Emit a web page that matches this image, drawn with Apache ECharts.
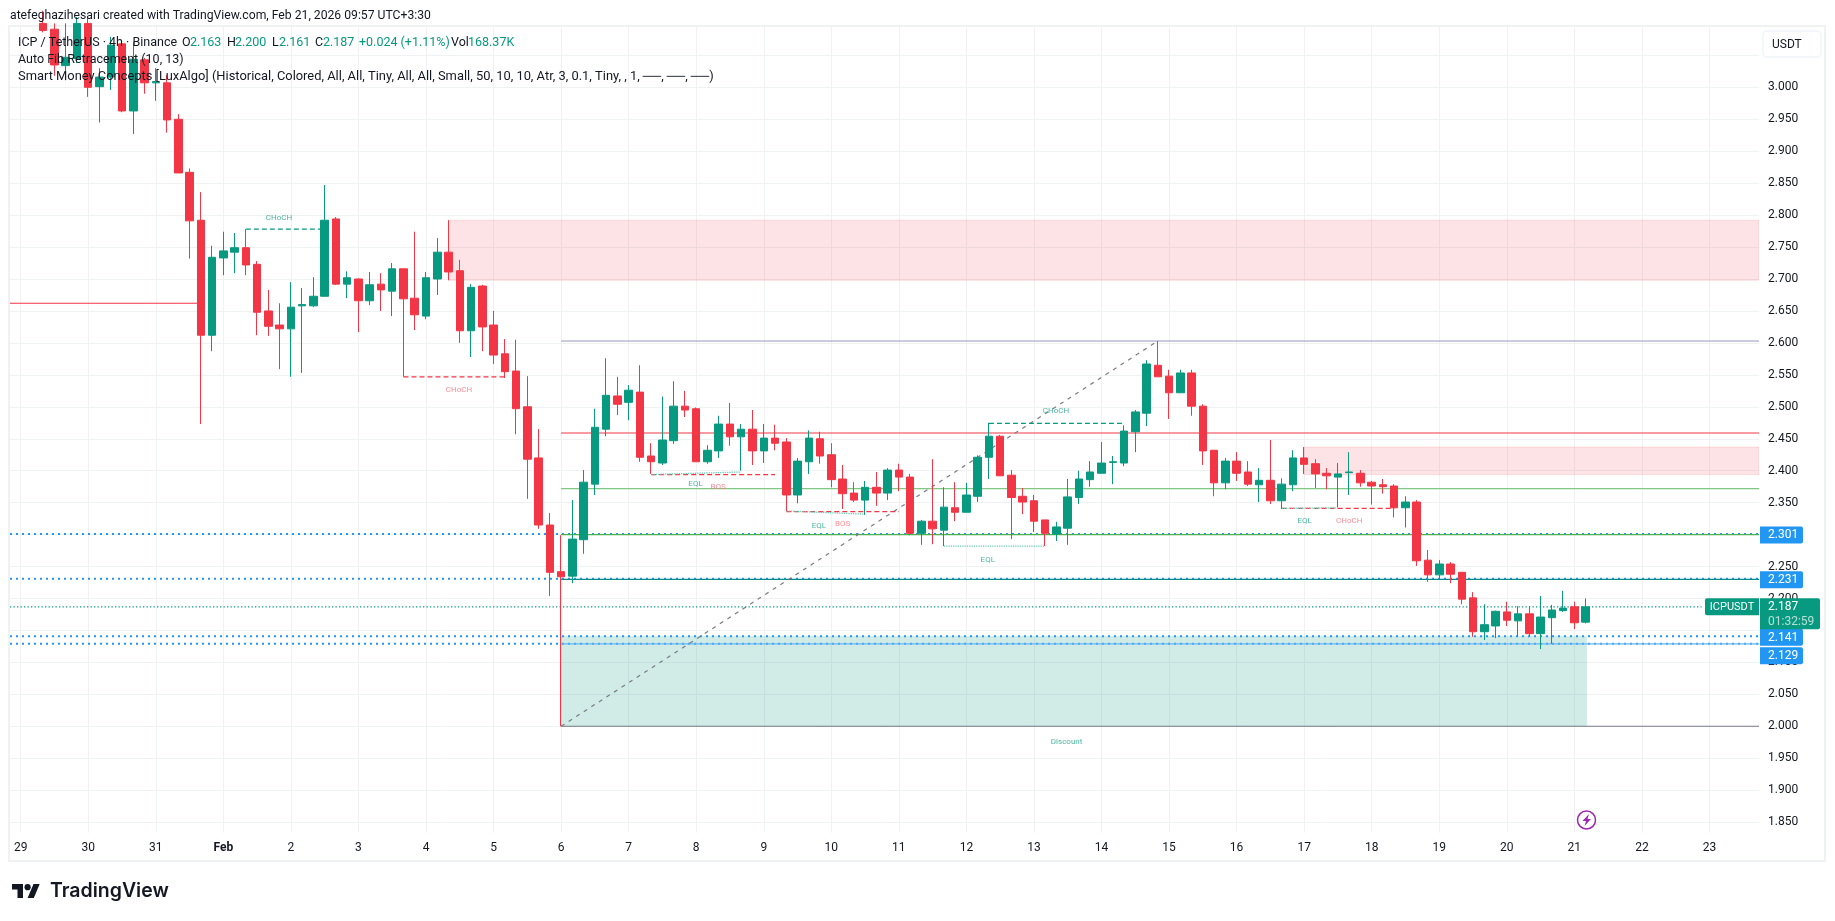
<!DOCTYPE html>
<html>
<head>
<meta charset="utf-8">
<title>ICPUSDT</title>
<script src="https://cdn.jsdelivr.net/npm/echarts@6/dist/echarts.min.js"></script>
<style>
html, body { margin: 0; padding: 0; background: #fff; }
#main { width: 1835px; height: 921px; }
</style>
</head>
<body>
<div id="main"></div>
<script>
// bars are 4h, index 0 = the "29" tick, 6 bars per day
var firstBar = 2;
var dayLabels = ['29','30','31','Feb','2','3','4','5','6','7','8','9','10','11','12','13','14','15','16','17','18','19','20','21','22','23'];
var dayTicks = [0,6,12,18,24,30,36,42,48,54,60,66,72,78,84,90,96,102,108,114,120,126,132,138,144,150];
var priceLabels = [1.85,1.9,1.95,2.0,2.05,2.1,2.15,2.2,2.25,2.3,2.35,2.4,2.45,2.5,2.55,2.6,2.65,2.7,2.75,2.8,2.85,2.9,2.95,3.0];
var priceGrid = priceLabels.concat([3.05]);

var opens = [3.10,3.091,3.034,3.045,3.10,3.001,3.016,3.068,2.963,3.043,3.007,3.007,2.950,2.867,
2.792,2.612,2.733,2.742,2.749,2.723,2.650,2.628,2.622,2.658,2.658,2.673,2.794,2.692,
2.700,2.666,2.692,2.681,2.716,2.670,2.642,2.700,2.742,2.713,2.619,2.689,2.628,2.583,
2.556,2.500,2.420,2.315,2.242,2.235,2.292,2.379,2.465,2.517,2.507,2.523,2.423,2.412,
2.447,2.501,2.497,2.414,2.431,2.473,2.453,2.465,2.431,2.451,2.445,2.362,2.414,2.450,
2.425,2.387,2.365,2.354,2.374,2.365,2.401,2.390,2.302,2.321,2.307,2.342,2.335,2.360,
2.421,2.454,2.393,2.360,2.353,2.323,2.301,2.310,2.358,2.386,2.396,2.413,2.412,2.461,
2.490,2.565,2.548,2.522,2.553,2.501,2.432,2.381,2.415,2.398,2.378,2.385,2.353,2.378,
2.420,2.411,2.396,2.390,2.397,2.396,2.382,2.378,2.376,2.342,2.351,2.260,2.237,2.254,
2.241,2.201,2.148,2.157,2.179,2.165,2.176,2.145,2.170,2.181,2.187,2.163];

var closes = [3.089,3.035,3.047,3.10,3.000,3.016,3.066,2.963,3.044,3.007,3.009,2.949,2.866,2.791,
2.612,2.734,2.744,2.749,2.722,2.648,2.626,2.622,2.656,2.660,2.673,2.792,2.692,2.702,
2.666,2.691,2.683,2.716,2.669,2.644,2.702,2.742,2.711,2.619,2.687,2.625,2.581,2.555,
2.497,2.418,2.315,2.241,2.234,2.293,2.382,2.468,2.518,2.504,2.526,2.421,2.414,2.448,
2.501,2.495,2.414,2.432,2.473,2.453,2.465,2.431,2.451,2.443,2.362,2.415,2.451,2.423,
2.386,2.364,2.354,2.374,2.365,2.401,2.390,2.302,2.321,2.309,2.343,2.335,2.362,2.421,
2.454,2.392,2.358,2.351,2.321,2.302,2.312,2.359,2.387,2.398,2.412,2.414,2.462,2.492,
2.567,2.547,2.522,2.553,2.501,2.431,2.381,2.415,2.396,2.379,2.385,2.353,2.379,2.420,
2.410,2.395,2.392,2.395,2.398,2.381,2.376,2.375,2.342,2.351,2.259,2.237,2.254,2.238,
2.199,2.148,2.159,2.180,2.166,2.176,2.145,2.171,2.182,2.185,2.162,2.187];

var lows = [3.086,3.018,3.011,3.038,2.985,2.945,2.996,2.961,2.927,2.990,2.979,2.929,2.866,2.732,
2.473,2.587,2.706,2.709,2.706,2.612,2.611,2.559,2.547,2.553,2.656,2.673,2.691,2.670,
2.617,2.659,2.650,2.642,2.547,2.620,2.637,2.675,2.698,2.600,2.578,2.587,2.567,2.545,
2.457,2.356,2.309,2.204,2.000,2.224,2.270,2.362,2.454,2.487,2.479,2.414,2.395,2.409,
2.442,2.484,2.414,2.411,2.420,2.439,2.400,2.409,2.412,2.432,2.337,2.349,2.395,2.411,
2.374,2.340,2.351,2.331,2.345,2.354,2.368,2.299,2.284,2.285,2.282,2.321,2.335,2.351,
2.387,2.392,2.293,2.332,2.304,2.282,2.290,2.284,2.348,2.375,2.396,2.379,2.407,2.429,
2.470,2.547,2.481,2.522,2.486,2.409,2.360,2.371,2.384,2.376,2.351,2.348,2.340,2.368,
2.395,2.373,2.371,2.343,2.362,2.375,2.347,2.364,2.327,2.311,2.251,2.226,2.231,2.224,
2.191,2.140,2.135,2.138,2.157,2.140,2.141,2.121,2.129,2.179,2.152,2.161];

var highs = [3.12,3.10,3.10,3.11,3.11,3.030,3.079,3.072,3.071,3.046,3.030,3.019,2.958,2.873,
2.836,2.752,2.774,2.772,2.778,2.728,2.683,2.662,2.695,2.686,2.703,2.847,2.797,2.712,
2.701,2.711,2.709,2.725,2.716,2.774,2.711,2.764,2.792,2.730,2.692,2.691,2.650,2.606,
2.605,2.548,2.465,2.334,2.299,2.354,2.401,2.497,2.576,2.547,2.534,2.565,2.443,2.516,
2.540,2.525,2.499,2.440,2.486,2.506,2.473,2.495,2.473,2.472,2.451,2.420,2.463,2.461,
2.443,2.409,2.382,2.384,2.398,2.404,2.411,2.395,2.323,2.418,2.374,2.382,2.381,2.424,
2.475,2.456,2.401,2.373,2.362,2.323,2.320,2.387,2.400,2.415,2.445,2.423,2.471,2.495,
2.573,2.603,2.558,2.558,2.558,2.504,2.432,2.420,2.429,2.415,2.404,2.448,2.388,2.432,
2.437,2.418,2.404,2.412,2.429,2.401,2.384,2.387,2.379,2.360,2.354,2.276,2.260,2.257,
2.241,2.210,2.191,2.181,2.195,2.188,2.188,2.204,2.190,2.212,2.195,2.200];

var axisMinX = -0.95, axisMaxX = 154.4;
var axisMinY = 1.8338, axisMaxY = 3.0944;

// [from bar, to bar, price]
var levelsBlue = [[axisMinX,axisMaxX,2.301],[axisMinX,axisMaxX,2.231],[axisMinX,axisMaxX,2.141],[axisMinX,axisMaxX,2.129]];
var fibLines = [[48,axisMaxX,2.603,'#9598c1'],[48,axisMaxX,2.459,'#f23645'],[48,axisMaxX,2.372,'#81c784'],[48,axisMaxX,2.300,'#4caf50'],[48,axisMaxX,2.230,'#0b8a8a'],[48,axisMaxX,2.129,'#64b5f6'],[48,axisMaxX,2.000,'#787b86'],[axisMinX,16,2.662,'#f23645']];
var fibTrend = [[48,2.000],[101,2.603]];
var lastPriceLine = [axisMinX,149.3,2.187];
var structGreen = [[20,27,2.778],[86,98,2.474]];
var structRed = [[34,43,2.547],[56,67,2.394],[68,78,2.336],[112,122,2.341]];
var eqlLines = [[[56,2.394],[64,2.398]],[[68,2.337],[75,2.332]],[[82,2.282],[91,2.282]],[[112,2.341],[117,2.342]]];

// [from bar, to bar, top, bottom]
var redZones = [[38,axisMaxX,2.792,2.698],[114,axisMaxX,2.437,2.394]];
var greenZones = [[48,139.1,2.141,2.000]];

var greenLabels = [[22.94,2.795,'CHoCH'],[59.94,2.379,'EQL'],[70.9,2.313,'EQL'],[85.9,2.260,'EQL'],[91.96,2.493,'CHoCH'],[114.05,2.321,'EQL'],[92.9,1.975,'Discount']];
var redLabels = [[38.93,2.527,'CHoCH'],[61.94,2.374,'BOS'],[73.0,2.317,'BOS'],[118,2.321,'CHoCH']];

var tagPrices = [2.301, 2.231, 2.141, 2.129];
var lastPrice = 2.187;
var countdown = '01:32:59';
var symbolName = 'ICPUSDT';

var upColor = '#089981', downColor = '#F23645', blue = '#2196f3';
var fontName = 'Roboto, "Open Sans", sans-serif';

var candleData = opens.map(function (o, k) {
    return [firstBar + k, o, closes[k], lows[k], highs[k]];
});

var series = [];

function addLine(points, color, width, dash, z) {
    series.push({
        type: 'line', data: points, symbol: 'none', silent: true, animation: false, z: z || 2,
        lineStyle: { color: color, width: width, type: dash || 'solid', cap: 'butt' }
    });
}

function addZones(zones, fill, stroke) {
    series.push({
        type: 'custom', silent: true, animation: false, z: 1, data: zones, clip: true,
        encode: { x: [0, 1], y: [2, 3] },
        renderItem: function (params, api) {
            var a = api.coord([api.value(0), api.value(2)]);
            var b = api.coord([api.value(1), api.value(3)]);
            return {
                type: 'rect',
                shape: { x: a[0], y: a[1], width: b[0] - a[0], height: b[1] - a[1] },
                style: { fill: fill, stroke: stroke, lineWidth: 1 }
            };
        }
    });
}

function addLabels(list, color) {
    series.push({
        type: 'scatter', silent: true, animation: false, z: 3, data: list, symbolSize: 0,
        label: {
            show: true, position: 'inside', color: color, fontSize: 8, fontFamily: fontName,
            formatter: function (p) { return p.value[2]; }
        }
    });
}

addZones(redZones, 'rgba(242,54,69,0.14)', 'rgba(242,54,69,0.12)');
addZones(greenZones, 'rgba(8,153,129,0.19)', 'rgba(8,153,129,0.05)');

levelsBlue.forEach(function (l) {
    addLine([[l[0], l[2]], [l[1], l[2]]], blue, 2, [2, 4]);
});
fibLines.forEach(function (l) {
    addLine([[l[0], l[2]], [l[1], l[2]]], l[3], 1.1);
});
addLine(fibTrend, '#787b86', 1.2, [4, 5]);
addLine([[lastPriceLine[0], lastPriceLine[2]], [lastPriceLine[1], lastPriceLine[2]]], upColor, 1.3, [1.3, 2.2]);
structGreen.forEach(function (l) {
    addLine([[l[0], l[2]], [l[1], l[2]]], upColor, 1.3, [5, 3]);
});
structRed.forEach(function (l) {
    addLine([[l[0], l[2]], [l[1], l[2]]], downColor, 1.3, [5, 3]);
});
eqlLines.forEach(function (l) {
    addLine(l, '#6fc9b5', 1.3, [1.3, 1]);
});
addLabels(greenLabels, '#1fa58c');
addLabels(redLabels, '#f7707c');

series.push({
    type: 'candlestick', data: candleData, barWidth: 8, z: 5, silent: true, animation: false,
    itemStyle: { color: upColor, color0: downColor, borderColor: upColor, borderColor0: downColor, borderWidth: 1 }
});

// price tags on the axis, a tag that would overlap the one above moves down
series.push({
    type: 'custom', silent: true, animation: false, z: 8, clip: false, data: tagPrices.map(function (p) { return [axisMaxX, p]; }),
    renderItem: function (params, api) {
        var pos = api.coord([api.value(0), api.value(1)]);
        var prev = params.dataIndex > 0 ? api.coord([axisMaxX, tagPrices[params.dataIndex - 1]])[1] : -100;
        var y = Math.max(pos[1], prev + 18.5);
        return {
            type: 'group', children: [
                { type: 'rect', shape: { x: pos[0] + 1, y: y - 7.5, width: 43, height: 17, r: [0, 2, 2, 0] }, style: { fill: blue } },
                { type: 'text', style: { x: pos[0] + 9, y: y + 1.5, text: api.value(1).toFixed(3), fill: '#fff', font: '12px ' + fontName, textVerticalAlign: 'middle' } }
            ]
        };
    }
});
series.push({
    type: 'custom', silent: true, animation: false, z: 9, clip: false, data: [[axisMaxX, lastPrice]],
    renderItem: function (params, api) {
        var pos = api.coord([api.value(0), api.value(1)]);
        return {
            type: 'group', children: [
                { type: 'rect', shape: { x: pos[0] - 54, y: pos[1] - 8.5, width: 54, height: 17, r: [2, 0, 0, 2] }, style: { fill: upColor } },
                { type: 'text', style: { x: pos[0] - 27, y: pos[1] + 0.5, text: symbolName, fill: '#fff', font: '11px ' + fontName, textAlign: 'center', textVerticalAlign: 'middle' } },
                { type: 'rect', shape: { x: pos[0] + 1, y: pos[1] - 8.5, width: 60, height: 31, r: [0, 2, 2, 0] }, style: { fill: upColor } },
                { type: 'text', style: { x: pos[0] + 9, y: pos[1] + 0.5, text: api.value(1).toFixed(3), fill: '#fff', font: '12px ' + fontName, textVerticalAlign: 'middle' } },
                { type: 'text', style: { x: pos[0] + 9, y: pos[1] + 15.5, text: countdown, fill: '#b5e0d8', font: '12px ' + fontName, textVerticalAlign: 'middle' } }
            ]
        };
    }
});

var txt = '#131722';
var legendParts = [
    [18, 42.5, 'ICP / TetherUS · 4h · Binance', txt, 12.5],
    [182, 42.5, 'O', txt, 12.5], [190, 42.5, '2.163', upColor, 12.5],
    [227, 42.5, 'H', txt, 12.5], [235, 42.5, '2.200', upColor, 12.5],
    [272, 42.5, 'L', txt, 12.5], [279, 42.5, '2.161', upColor, 12.5],
    [315, 42.5, 'C', txt, 12.5], [323, 42.5, '2.187', upColor, 12.5],
    [359, 42.5, '+0.024 (+1.11%)', upColor, 12.5],
    [451, 42.5, 'Vol', txt, 12.5], [468, 42.5, '168.37K', upColor, 12.5],
    [18, 60, 'Auto Fib Retracement (10, 13)', txt, 12.5],
    [18, 77, 'Smart Money Concepts [LuxAlgo] (Historical, Colored, All, All, Tiny, All, All, Small, 50, 10, 10, Atr, 3, 0.1, Tiny, , 1, ──, ──, ──)', txt, 12.9],
    [10, 16, 'atefeghazihesari created with TradingView.com, Feb 21, 2026 09:57 UTC+3:30', txt, 12.2]
];

var graphics = legendParts.map(function (p) {
    return { type: 'text', z: 20, x: p[0], y: p[1], style: { text: p[2], fill: p[3], font: p[4] + 'px ' + fontName, textVerticalAlign: 'middle' } };
});
// frame around chart and axis
graphics.push({ type: 'rect', z: 0, silent: true, shape: { x: 9, y: 26, width: 1816, height: 835 }, style: { fill: 'none', stroke: '#f0f1f3', lineWidth: 2 } });
// currency button
graphics.push({ type: 'rect', z: 20, shape: { x: 1763, y: 31, width: 58, height: 26, r: 4 }, style: { fill: '#fff', stroke: '#f0f3fa', lineWidth: 1.5 } });
graphics.push({ type: 'text', z: 21, x: 1772, y: 45, style: { text: 'USDT', fill: txt, font: '12px ' + fontName, textVerticalAlign: 'middle' } });
// TradingView logo
graphics.push({ type: 'polygon', z: 20, shape: { points: [[12, 884], [23, 884], [23, 898], [17.5, 898], [17.5, 889.6], [12, 889.6]] }, style: { fill: txt } });
graphics.push({ type: 'polygon', z: 20, shape: { points: [[27.6, 898], [33.5, 884], [39.7, 884], [33.8, 898]] }, style: { fill: txt } });
graphics.push({ type: 'circle', z: 20, shape: { cx: 27.6, cy: 887.2, r: 3.1 }, style: { fill: txt } });
graphics.push({ type: 'text', z: 20, x: 50, y: 891, style: { text: 'TradingView', fill: txt, font: '600 19.5px Inter, sans-serif', textVerticalAlign: 'middle' } });
// bolt icon
graphics.push({ type: 'circle', z: 20, shape: { cx: 1586.5, cy: 820, r: 9 }, style: { fill: '#fff', stroke: '#9c27b0', lineWidth: 1.5 } });
graphics.push({ type: 'polygon', z: 21, shape: { points: [[1589, 814], [1582.5, 821], [1586, 821], [1584.5, 826], [1591, 819], [1587.5, 819]] }, style: { fill: '#9c27b0' } });

var option = {
    backgroundColor: '#fff',
    animation: false,
    grid: { left: 10, right: 76, top: 27, bottom: 88.5 },
    xAxis: {
        type: 'value', min: axisMinX, max: axisMaxX, scale: true,
        axisLine: { show: false },
        axisTick: { show: false, customValues: dayTicks },
        splitLine: { show: true, lineStyle: { color: '#f0f1f3', width: 1 } },
        axisLabel: {
            color: txt, fontSize: 12, fontFamily: fontName, margin: 9, customValues: dayTicks,
            formatter: function (v) {
                var day = dayLabels[dayTicks.indexOf(v)];
                return day === 'Feb' ? '{b|Feb}' : day;
            },
            rich: { b: { fontWeight: 'bold', fontSize: 12, fontFamily: fontName, color: txt } }
        }
    },
    yAxis: {
        type: 'value', position: 'right', min: axisMinY, max: axisMaxY, scale: true,
        axisLine: { show: false },
        axisTick: { show: false, customValues: priceGrid },
        splitLine: { show: true, lineStyle: { color: '#f0f1f3', width: 1 } },
        axisLabel: {
            color: txt, fontSize: 12, fontFamily: fontName, margin: 9, customValues: priceLabels,
            formatter: function (v) { return v.toFixed(3); }
        }
    },
    series: series,
    graphic: graphics
};

var myChart = echarts.init(document.getElementById('main'));
myChart.setOption(option);
</script>
</body>
</html>
